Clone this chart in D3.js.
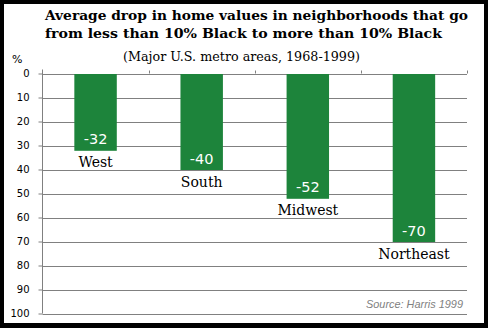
<!DOCTYPE html>
<html><head><meta charset="utf-8">
<script src="https://cdn.jsdelivr.net/npm/d3@7"></script>
<style>html,body{margin:0;padding:0;background:#000;}svg{display:block;}</style>
</head><body>
<script>
const categories = ["West", "South", "Midwest", "Northeast"];
const values = [-32, -40, -52, -70];
const yTicks = [0, 10, 20, 30, 40, 50, 60, 70, 80, 90, 100];
const titleLines = ["Average drop in home values in neighborhoods that go",
                    "from less than 10% Black to more than 10% Black"];
const subtitle = "(Major U.S. metro areas, 1968-1999)";
const source = "Source: Harris 1999";

const W = 488, H = 328;
const svg = d3.select("body").append("svg").attr("width", W).attr("height", H);
svg.append("rect").attr("width", W).attr("height", H).attr("fill", "#000");
svg.append("rect").attr("x", 4).attr("y", 4).attr("width", 480).attr("height", 319).attr("fill", "#fff");

const plot = {left: 42.5, right: 467, top: 73.5, bottom: 313.5};
const x = d3.scaleBand().domain(categories).range([plot.left, plot.right]).paddingInner(0.6).paddingOuter(0.3);
const y = d3.scaleLinear().domain([0, 100]).range([plot.top, plot.bottom]);

// gridlines
svg.append("g").selectAll("line").data(yTicks).join("line")
  .attr("x1", plot.left).attr("x2", plot.right)
  .attr("y1", d => Math.round(y(d)) + 0.5).attr("y2", d => Math.round(y(d)) + 0.5)
  .attr("stroke", "#808080").attr("stroke-width", 1);

// y axis
const yAxis = d3.axisLeft(y).tickValues(yTicks).tickSize(4).tickPadding(9);
const gy = svg.append("g").attr("transform", `translate(${plot.left},0)`).call(yAxis);
gy.select(".domain").remove();
gy.selectAll(".tick line").attr("stroke", "#808080");
gy.selectAll(".tick text").attr("font-family", "DejaVu Sans, Verdana, sans-serif")
  .attr("font-size", 10).attr("fill", "#000");
svg.append("line").attr("x1", plot.left).attr("x2", plot.left)
  .attr("y1", plot.top - 4).attr("y2", plot.bottom).attr("stroke", "#808080");

// category boundary ticks (upward from 0 line)
const step = (plot.right - plot.left) / categories.length;
svg.append("g").selectAll("line").data(categories).join("line")
  .attr("x1", (d, i) => Math.round(plot.left + step * (i + 1)) + 0.5)
  .attr("x2", (d, i) => Math.round(plot.left + step * (i + 1)) + 0.5)
  .attr("y1", plot.top - 3).attr("y2", plot.top)
  .attr("stroke", "#808080");

// bars
const data = categories.map((c, i) => ({c, v: values[i]}));
svg.append("g").selectAll("rect").data(data).join("rect")
  .attr("x", d => x(d.c)).attr("width", x.bandwidth())
  .attr("y", y(0) + 0.5).attr("height", d => y(-d.v) - y(0))
  .attr("fill", "#1d843b");

// value labels
svg.append("g").selectAll("text").data(data).join("text")
  .attr("x", d => x(d.c) + x.bandwidth() / 2)
  .attr("y", d => y(-d.v) - 6)
  .attr("text-anchor", "middle")
  .attr("font-family", "DejaVu Sans, Verdana, sans-serif").attr("font-size", 14.5)
  .attr("fill", "#fff").text(d => d.v);

// category labels
svg.append("g").selectAll("text").data(data).join("text")
  .attr("x", d => x(d.c) + x.bandwidth() / 2)
  .attr("y", d => y(-d.v) + 17)
  .attr("text-anchor", "middle")
  .attr("font-family", "DejaVu Serif, serif").attr("font-size", 14)
  .attr("fill", "#000").text(d => d.c);

// title
const titleWidths = [423, 397];
svg.append("g").selectAll("text").data(titleLines).join("text")
  .attr("x", 45).attr("y", (d, i) => 20 + i * 18)
  .attr("font-family", "DejaVu Serif, serif").attr("font-weight", "bold").attr("font-size", 13.5)
  .attr("textLength", (d, i) => titleWidths[i]).attr("lengthAdjust", "spacingAndGlyphs")
  .attr("fill", "#000").text(d => d);

svg.append("text").attr("x", 123).attr("y", 61)
  .attr("font-family", "DejaVu Serif, serif").attr("font-size", 12.5)
  .attr("textLength", 237).attr("lengthAdjust", "spacingAndGlyphs")
  .attr("fill", "#000").text(subtitle);

svg.append("text").attr("x", 12).attr("y", 63)
  .attr("font-family", "DejaVu Sans, sans-serif").attr("font-size", 11)
  .attr("fill", "#000").text("%");

svg.append("text").attr("x", 463).attr("y", 308).attr("text-anchor", "end")
  .attr("font-family", "Liberation Sans, Arial, sans-serif").attr("font-style", "italic").attr("font-size", 11.5)
  .attr("textLength", 97).attr("lengthAdjust", "spacingAndGlyphs")
  .attr("fill", "#808080").text(source);
</script>
</body></html>
